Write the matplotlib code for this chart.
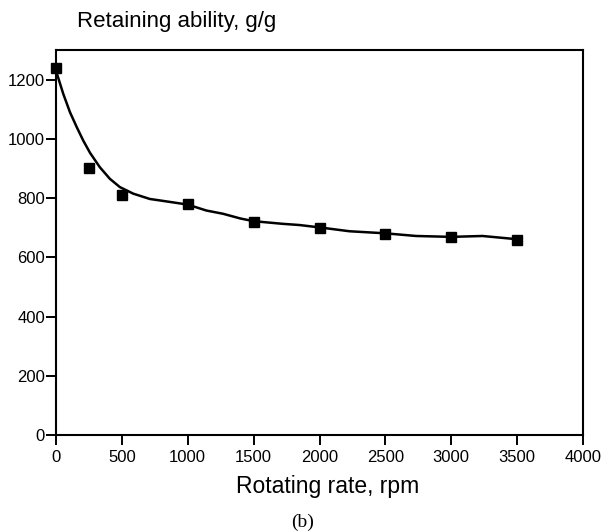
import matplotlib
matplotlib.use("Agg")
import matplotlib.pyplot as plt

# measured points
rpm = [0, 250, 500, 1000, 1500, 2000, 2500, 3000, 3500]
retain = [1240, 900, 810, 780, 720, 700, 680, 670, 660]

# fitted curve
curve_x = [0, 55, 106, 157, 207, 258, 333, 409, 485, 586, 712, 850, 1000,
           1141, 1268, 1400, 1500, 1722, 1848, 2000, 2227, 2500, 2733, 3000,
           3237, 3500]
curve_y = [1230, 1152, 1090, 1040, 994, 953, 904, 865, 837, 815, 797, 788, 778,
           758, 747, 731, 722, 713, 709, 701, 688, 681, 672, 669,
           672, 661]

plt.rcParams['font.family'] = ['Liberation Sans', 'DejaVu Sans']

fig = plt.figure(figsize=(6.08, 5.32), dpi=100)
ax = fig.add_axes([56/608, 1 - 435/532, (583 - 56)/608, (435 - 50)/532])

ax.plot(curve_x, curve_y, color='black', lw=1.8, zorder=2,
        solid_joinstyle='round')
ax.plot(rpm, retain, 's', color='black', markersize=7, zorder=3, clip_on=False)

ax.set_xlim(0, 4000)
ax.set_ylim(0, 1300)
ax.set_xticks(range(0, 4001, 500))
ax.set_yticks(range(0, 1201, 200))
ax.tick_params(direction='out', length=7, width=1.4, labelsize=12, colors='black')
ax.tick_params(axis='y', pad=1)
ax.tick_params(axis='x', pad=4)
for s in ax.spines.values():
    s.set_linewidth(1.5)

fig.text(77/608, 1 - 22/532, 'Retaining ability, g/g', fontsize=16, va='center', ha='left')
fig.text(328/608, 1 - 487/532, 'Rotating rate, rpm', fontsize=16.5, va='center', ha='center')
fig.text(303/608, 1 - 522/532, '(b)', fontsize=14, va='center', ha='center',
         family='Liberation Serif')

fig.savefig('out.png', dpi=100)
